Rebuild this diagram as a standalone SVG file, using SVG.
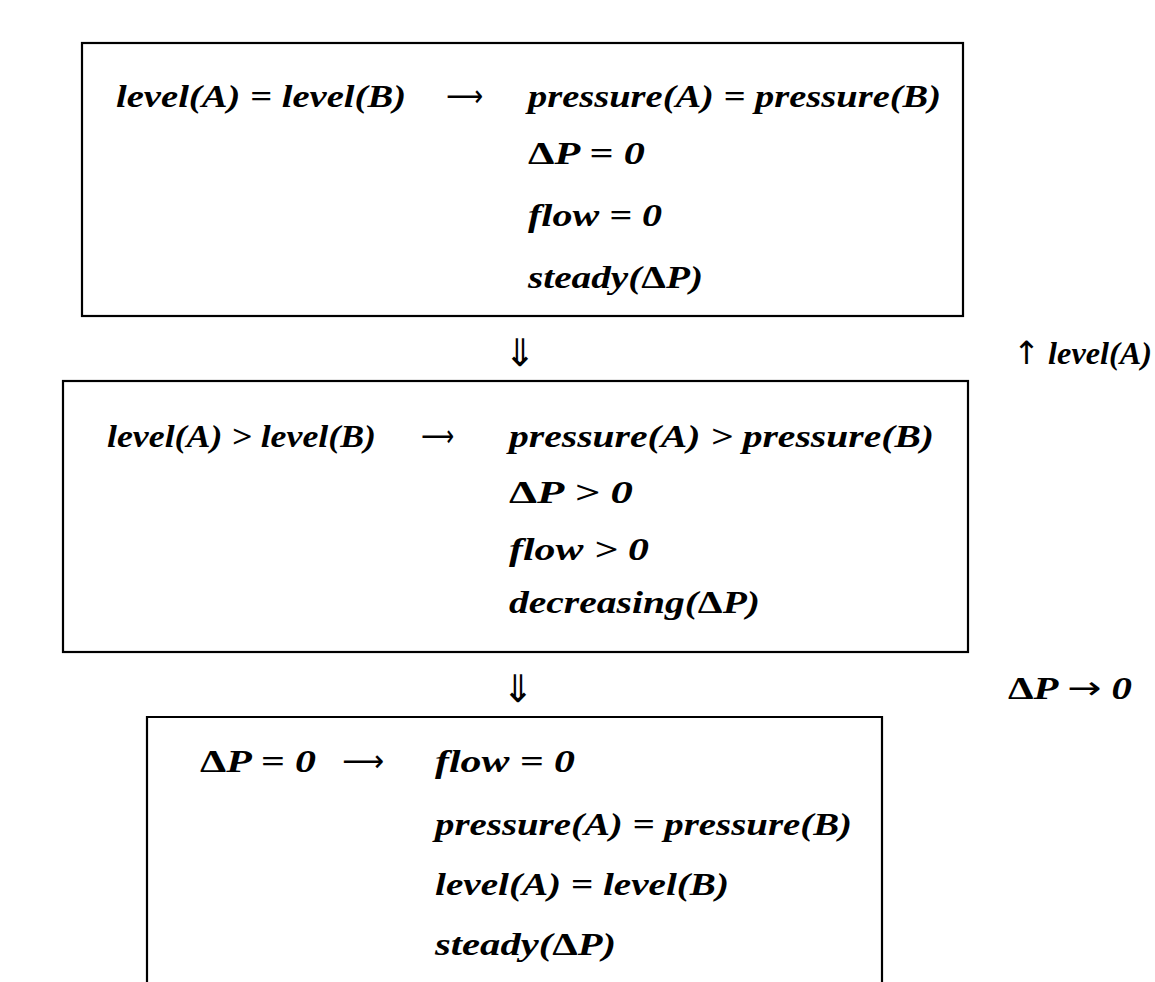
<svg xmlns="http://www.w3.org/2000/svg" width="1155" height="982" viewBox="0 0 1155 982">
<style>
.box{fill:none;stroke:#000;stroke-width:2.2}
.m{font-family:"Liberation Serif","DejaVu Serif",serif;font-size:32px;font-weight:bold;font-style:italic;fill:#000}
.up{font-style:normal}
.ar{font-family:"DejaVu Sans",sans-serif;font-size:30px;fill:#000}
.dn{font-family:"DejaVu Sans",sans-serif;font-size:38px;fill:#000}
</style>
<rect width="1155" height="982" fill="#fff"/>
<g id="state1">
<rect class="box" x="82" y="43" width="881" height="273"/>
<text class="m" x="116" y="107" textLength="290" lengthAdjust="spacingAndGlyphs">level(A) = level(B)</text>
<text class="ar" x="446" y="106" textLength="37" lengthAdjust="spacingAndGlyphs">⟶</text>
<text class="m" x="528" y="107" textLength="413" lengthAdjust="spacingAndGlyphs">pressure(A) = pressure(B)</text>
<text class="m" x="528" y="164" textLength="117" lengthAdjust="spacingAndGlyphs"><tspan class="up">Δ</tspan>P = 0</text>
<text class="m" x="528" y="226" textLength="134" lengthAdjust="spacingAndGlyphs">flow = 0</text>
<text class="m" x="528" y="288" textLength="175" lengthAdjust="spacingAndGlyphs">steady(<tspan class="up">Δ</tspan>P)</text>
</g>
<g id="state2">
<rect class="box" x="63" y="381" width="905" height="271"/>
<text class="m" x="107" y="447" textLength="269" lengthAdjust="spacingAndGlyphs">level(A) &gt; level(B)</text>
<text class="ar" x="421" y="446" textLength="33" lengthAdjust="spacingAndGlyphs">⟶</text>
<text class="m" x="509" y="447" textLength="425" lengthAdjust="spacingAndGlyphs">pressure(A) &gt; pressure(B)</text>
<text class="m" x="509" y="503" textLength="124" lengthAdjust="spacingAndGlyphs"><tspan class="up">Δ</tspan>P &gt; 0</text>
<text class="m" x="509" y="560" textLength="140" lengthAdjust="spacingAndGlyphs">flow &gt; 0</text>
<text class="m" x="509" y="613" textLength="251" lengthAdjust="spacingAndGlyphs">decreasing(<tspan class="up">Δ</tspan>P)</text>
</g>
<g id="state3">
<path class="box" d="M147 990 V717 H882 V990"/>
<text class="m" x="200" y="772" textLength="116" lengthAdjust="spacingAndGlyphs"><tspan class="up">Δ</tspan>P = 0</text>
<text class="ar" x="342" y="771" textLength="42" lengthAdjust="spacingAndGlyphs">⟶</text>
<text class="m" x="435" y="772" textLength="140" lengthAdjust="spacingAndGlyphs">flow = 0</text>
<text class="m" x="435" y="835" textLength="417" lengthAdjust="spacingAndGlyphs">pressure(A) = pressure(B)</text>
<text class="m" x="435" y="895" textLength="294" lengthAdjust="spacingAndGlyphs">level(A) = level(B)</text>
<text class="m" x="435" y="955" textLength="181" lengthAdjust="spacingAndGlyphs">steady(<tspan class="up">Δ</tspan>P)</text>
</g>
<g id="connectors">
<text class="dn" x="520" y="366" text-anchor="middle">⇓</text>
<text class="m" x="1013" y="364" textLength="139" lengthAdjust="spacingAndGlyphs"><tspan class="up" font-family="DejaVu Sans" font-weight="normal">↑</tspan> level(A)</text>
<text class="dn" x="518" y="702" text-anchor="middle">⇓</text>
<text class="m" x="1008" y="699" textLength="124" lengthAdjust="spacingAndGlyphs"><tspan class="up">Δ</tspan>P <tspan class="up" font-family="DejaVu Sans" font-weight="normal">→</tspan> 0</text>
</g>
</svg>
